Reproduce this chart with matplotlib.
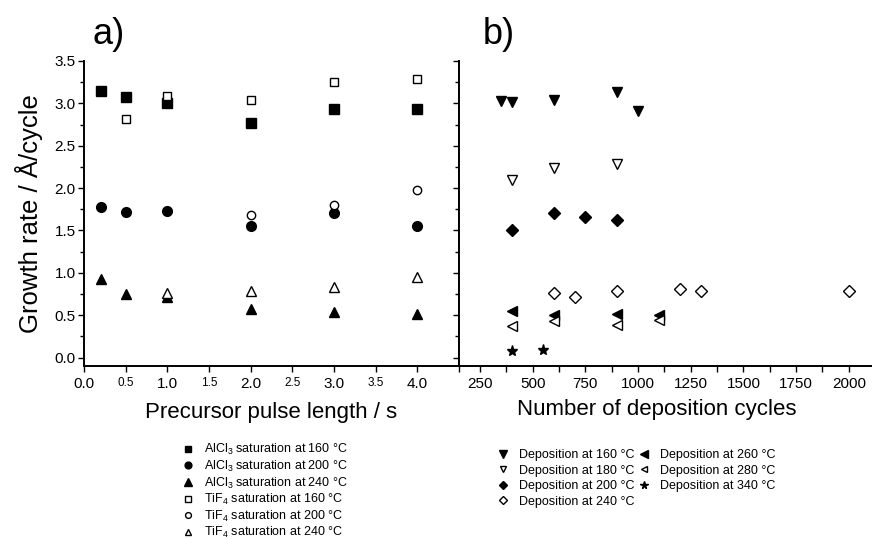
import numpy as np
import matplotlib
matplotlib.use("Agg")
import matplotlib.pyplot as plt

plt.rcParams['font.family'] = ['Liberation Sans', 'DejaVu Sans']
plt.rcParams['mathtext.fontset'] = 'custom'
plt.rcParams['mathtext.rm'] = 'Liberation Sans'
plt.rcParams['mathtext.it'] = 'Liberation Sans:italic'

# a) saturation curves vs precursor pulse length (s)
pulse_all = [0.2, 0.5, 1.0, 2.0, 3.0, 4.0]
alcl3_160 = [3.14, 3.08, 3.00, 2.77, 2.93, 2.93]
alcl3_200 = [1.78, 1.72, 1.73, 1.55, 1.70, 1.55]
alcl3_240 = [0.93, 0.75, 0.71, 0.575, 0.54, 0.515]
pulse_tif4_160 = [0.5, 1.0, 2.0, 3.0, 4.0]
tif4_160 = [2.81, 3.085, 3.04, 3.25, 3.29]
pulse_tif4_200 = [2.0, 3.0, 4.0]
tif4_200 = [1.68, 1.805, 1.98]
pulse_tif4_240 = [1.0, 2.0, 3.0, 4.0]
tif4_240 = [0.76, 0.79, 0.83, 0.95]

# b) growth rate vs number of deposition cycles
cyc_160 = [350, 400, 600, 900, 1000]
dep_160 = [3.03, 3.02, 3.04, 3.13, 2.91]
cyc_180 = [400, 600, 900]
dep_180 = [2.10, 2.24, 2.28]
cyc_200 = [400, 600, 750, 900]
dep_200 = [1.51, 1.71, 1.655, 1.62]
cyc_240 = [600, 700, 900, 1200, 1300, 2000]
dep_240 = [0.76, 0.72, 0.79, 0.81, 0.78, 0.78]
cyc_260 = [400, 600, 900, 1100]
dep_260 = [0.55, 0.505, 0.51, 0.50]
cyc_280 = [400, 600, 900, 1100]
dep_280 = [0.375, 0.43, 0.38, 0.44]
cyc_340 = [400, 550]
dep_340 = [0.075, 0.09]

fig = plt.figure(figsize=(8.72, 5.39), dpi=100)
bot, top = 1 - 366 / 539, 1 - 61 / 539
ax1 = fig.add_axes([84 / 872, bot, (459 - 84) / 872, top - bot])
ax2 = fig.add_axes([459 / 872, bot, (872 - 459) / 872, top - bot])

lw = 1.4
filled = dict(ls='none', color='black', mec='black')
hollow = dict(ls='none', color='black', mfc='white', mec='black', mew=1.0)

# panel a
ax1.plot(pulse_all, alcl3_160, 's', ms=6.5, **filled, label=r'AlCl$_3$ saturation at 160 °C')
ax1.plot(pulse_all, alcl3_200, 'o', ms=7, **filled, label=r'AlCl$_3$ saturation at 200 °C')
ax1.plot(pulse_all, alcl3_240, '^', ms=7.5, **filled, label=r'AlCl$_3$ saturation at 240 °C')
ax1.plot(pulse_tif4_160, tif4_160, 's', ms=5.5, **hollow, label=r'TiF$_4$ saturation at 160 °C')
ax1.plot(pulse_tif4_200, tif4_200, 'o', ms=6, **hollow, label=r'TiF$_4$ saturation at 200 °C')
ax1.plot(pulse_tif4_240, tif4_240, '^', ms=6.5, **hollow, label=r'TiF$_4$ saturation at 240 °C')

ax1.set_xlim(0, 4.5)
ax1.set_ylim(-0.1, 3.5)
ax1.set_xticks([0, 1, 2, 3, 4], ['0.0', '1.0', '2.0', '3.0', '4.0'], fontsize=11)
ax1.set_xticks([0.5, 1.5, 2.5, 3.5, 4.5], ['0.5', '1.5', '2.5', '3.5', ''], minor=True, fontsize=8.5)
ax1.set_yticks(np.arange(0, 3.51, 0.5), [f'{v:.1f}' for v in np.arange(0, 3.51, 0.5)], fontsize=11)
ax1.set_yticks(np.arange(0.25, 3.5, 0.5), minor=True)
ax1.tick_params(axis='x', which='both', direction='out', length=4, width=1.0, pad=4)
ax1.tick_params(axis='y', which='major', direction='out', length=4, width=1.0, pad=2)
ax1.tick_params(axis='y', which='minor', direction='out', length=3, width=1.0)
ax1.spines['top'].set_visible(False)
for s in ('left', 'bottom', 'right'):
    ax1.spines[s].set_linewidth(lw)
ax1.set_ylabel('Growth rate / Å/cycle', fontsize=18.5, labelpad=8)
ax1.set_xlabel('Precursor pulse length / s', fontsize=16, labelpad=8)
fig.text(92 / 872, 1 - 35 / 539, 'a)', fontsize=26, va='center', ha='left')

ax1.legend(loc='upper left', bbox_to_anchor=(175 / 872, 1 - 436 / 539),
           bbox_transform=fig.transFigure, frameon=False, fontsize=9,
           markerscale=0.7, handlelength=1.0, handletextpad=0.8,
           labelspacing=0.12, borderpad=0)

# panel b
ax2.plot(cyc_160, dep_160, 'v', ms=7.5, **filled, label='Deposition at 160 °C')
ax2.plot(cyc_180, dep_180, 'v', ms=6.5, **hollow, label='Deposition at 180 °C')
ax2.plot(cyc_200, dep_200, 'D', ms=6, **filled, label='Deposition at 200 °C')
ax2.plot(cyc_240, dep_240, 'D', ms=6, **hollow, label='Deposition at 240 °C')
ax2.plot(cyc_260, dep_260, '<', ms=7.5, **filled, label='Deposition at 260 °C')
ax2.plot(cyc_280, dep_280, '<', ms=6.5, **hollow, label='Deposition at 280 °C')
ax2.plot(cyc_340, dep_340, '*', ms=8, **filled, label='Deposition at 340 °C')

ax2.set_xlim(150, 2110)
ax2.set_ylim(-0.1, 3.5)
ax2.set_xticks(np.arange(250, 2001, 250), [str(v) for v in range(250, 2001, 250)], fontsize=11)
ax2.set_xticks(np.arange(375, 2110, 250), minor=True)
ax2.set_yticks(np.arange(0, 3.51, 0.5), [''] * 8)
ax2.set_yticks(np.arange(0.25, 3.5, 0.5), minor=True)
ax2.tick_params(axis='x', which='both', direction='out', length=4, width=1.0, pad=4)
ax2.tick_params(axis='y', which='major', direction='out', length=4, width=1.0)
ax2.tick_params(axis='y', which='minor', direction='out', length=3, width=1.0)
ax2.spines['top'].set_visible(False)
ax2.spines['right'].set_visible(False)
for s in ('left', 'bottom'):
    ax2.spines[s].set_linewidth(lw)
fig.text(657 / 872, 1 - 410 / 539, 'Number of deposition cycles', fontsize=16,
         ha='center', va='center')
fig.text(483 / 872, 1 - 35 / 539, 'b)', fontsize=26, va='center', ha='left')

ax2.legend(loc='upper left', bbox_to_anchor=(490 / 872, 1 - 443 / 539),
           bbox_transform=fig.transFigure, frameon=False, fontsize=9, ncol=2,
           markerscale=0.7, handlelength=1.0, handletextpad=0.8,
           labelspacing=0.28, columnspacing=0.3, borderpad=0)

fig.savefig('out.png', dpi=100, facecolor='white')
